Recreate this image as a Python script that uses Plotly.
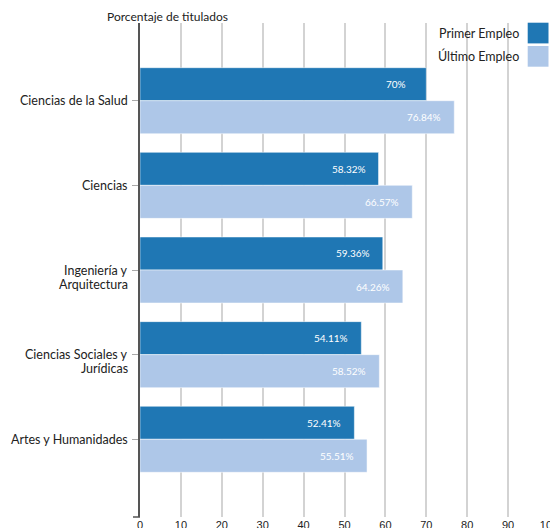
import plotly.graph_objects as go

categories = ["Ciencias de la Salud", "Ciencias", "Ingeniería y<br>Arquitectura",
              "Ciencias Sociales y<br>Jurídicas", "Artes y Humanidades"]
primer_empleo = [70, 58.32, 59.36, 54.11, 52.41]
ultimo_empleo = [76.84, 66.57, 64.26, 58.52, 55.51]
primer_labels = ["70%", "58.32%", "59.36%", "54.11%", "52.41%"]
ultimo_labels = ["76.84%", "66.57%", "64.26%", "58.52%", "55.51%"]
series_names = ["Primer Empleo", "Último Empleo"]
x_ticks = [0, 10, 20, 30, 40, 50, 60, 70, 80, 90, 100]

DARK = "#1f77b4"
LIGHT = "#aec7e8"
FONT = "Lato"

# the page body has an 8px margin, so the figure is laid out in page pixels minus 8
OFF = 8
W, H = 558 - OFF, 528 - OFF
ML, MT = 140 - OFF, 23 - OFF
MR = W - (549 - OFF)
MB = H - (517 - OFF)
plot_w = W - ML - MR
plot_h = H - MT - MB

fig = go.Figure()
fig.add_trace(go.Bar(y=categories, x=primer_empleo, orientation="h", name=series_names[0],
                     marker=dict(color=DARK, line=dict(color="white", width=0.5)),
                     hoverinfo="x+y"))
fig.add_trace(go.Bar(y=categories, x=ultimo_empleo, orientation="h", name=series_names[1],
                     marker=dict(color=LIGHT, line=dict(color="white", width=0.5)),
                     hoverinfo="x+y"))

# bar value labels
bar_frac = (1 - 0.22) / 2
for i, cat in enumerate(categories):
    for val, lab, sgn in ((primer_empleo[i], primer_labels[i], -1),
                          (ultimo_empleo[i], ultimo_labels[i], 1)):
        fig.add_annotation(x=val, y=i + sgn * bar_frac / 2, xref="x", yref="y",
                           text=lab, showarrow=False, xanchor="center", yanchor="middle",
                           xshift=-30, font=dict(family=FONT, size=10, color="white"))

# category labels: first line level with the tick, following lines below it
for i, cat in enumerate(categories):
    for j, line in enumerate(cat.split("<br>")):
        fig.add_annotation(x=0, y=i, xref="paper", yref="y", text=line, showarrow=False,
                           xanchor="right", yanchor="middle", xshift=-10, yshift=-14 * j,
                           font=dict(family=FONT, size=12.5, color="#222"))

# page-pixel helpers (reference coordinates)
def px_x(px):
    return (px - OFF - ML) / plot_w

def px_y(py):
    return 1 - (py - OFF - MT) / plot_h

# title
fig.add_annotation(x=px_x(105), y=px_y(17), xref="paper", yref="paper",
                   text="Porcentaje de titulados", showarrow=False,
                   xanchor="left", yanchor="middle",
                   font=dict(family=FONT, size=12, color="#222"))

# legend (manual, swatch to the right of the text)
colors = [DARK, LIGHT]
for k, name in enumerate(series_names):
    top = 22.7 + k * 23.3
    fig.add_shape(type="rect", xref="paper", yref="paper", layer="above",
                  x0=px_x(527.7), x1=px_x(548.5), y0=px_y(top), y1=px_y(top + 20.7),
                  fillcolor=colors[k], line=dict(width=0))
    fig.add_annotation(x=px_x(521), y=px_y(top + 10.5), xref="paper", yref="paper",
                       text=name, showarrow=False, xanchor="right", yanchor="middle",
                       font=dict(family=FONT, size=12.5, color="#222"))

# outer tick at bottom of the y axis
fig.add_shape(type="line", xref="paper", yref="paper", x0=px_x(133), x1=0, y0=0, y1=0,
              line=dict(color="#555", width=1.5))

fig.update_layout(
    width=W, height=H,
    margin=dict(l=ML, r=MR, t=MT, b=MB, autoexpand=False),
    barmode="group", bargap=0.22, bargroupgap=0,
    showlegend=False,
    plot_bgcolor="white", paper_bgcolor="white",
    font=dict(family=FONT, size=12, color="#222"),
    xaxis=dict(range=[0, 100], tickvals=x_ticks, showgrid=True, gridcolor="#d3d3d3",
               gridwidth=1.5, zeroline=False, showline=False, ticks="",
               ticklabeloverflow="allow",
               tickfont=dict(family="Liberation Sans", size=11, color="#222"),
               fixedrange=True, automargin=False),
    yaxis=dict(type="category", range=[4.918, -0.918], showgrid=False, zeroline=False,
               showline=True, linecolor="#555", linewidth=1.5, ticks="outside",
               ticklen=6, tickcolor="#aaa", tickwidth=1, showticklabels=False,
               fixedrange=True, automargin=False),
)

fig.write_html("out.html")
